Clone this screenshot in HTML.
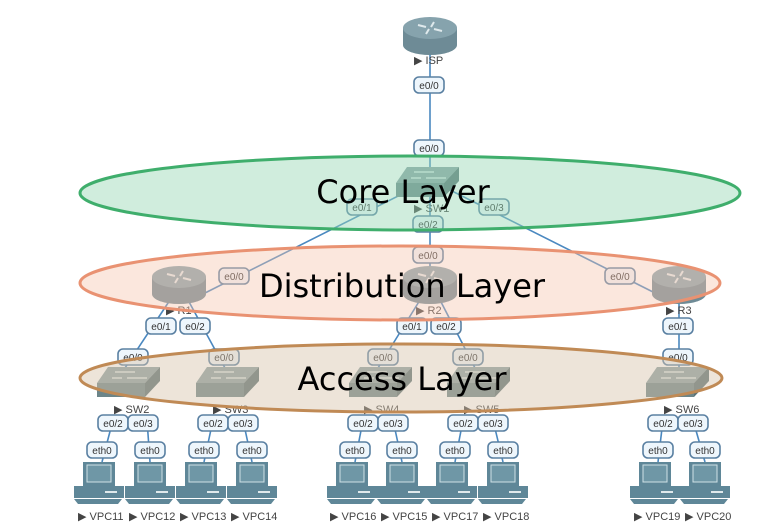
<!DOCTYPE html>
<html><head><meta charset="utf-8"><style>
html,body{margin:0;padding:0;background:#fff;}
svg{display:block;font-family:"Liberation Sans",sans-serif;}
.p rect{fill:#eef6fc;stroke:#5a80a2;stroke-width:1.6;}
.p text{font-size:10px;fill:#333;text-anchor:middle;}
.n{font-size:11px;fill:#444;}
.l{stroke:#4a88c0;stroke-width:1.6;fill:none;}
.big{font-family:"DejaVu Sans","Liberation Sans",sans-serif;font-size:32px;fill:#000;text-anchor:middle;}
</style></head><body>
<svg width="777" height="531" viewBox="0 0 777 531">
<defs>
<g id="rt">
<path d="M-27,11 L-27,28 A27,10 0 0 0 27,28 L27,11 Z" fill="#6e8b96"/>
<ellipse cx="0" cy="11" rx="27" ry="11" fill="#86a3ad"/>
<path d="M-12,8 l8,2 M12,14 l-8,-2 M-4,17 l3,-5 M4,5 l-3,5" stroke="#dfe9ec" stroke-width="2"/>
</g>
<g id="sw">
<polygon points="11,0 63,0 48,16 0,16" fill="#8aa0a4"/>
<polygon points="0,16 48,16 48,30 0,30" fill="#6c8589"/>
<polygon points="48,16 63,0 63,14 48,30" fill="#5a7276"/>
<path d="M18,5 h20 M30,11 h20 M15,11 h10" stroke="#e4eeee" stroke-width="1.2"/>
</g>
<g id="pc">
<rect x="-17" y="0" width="32" height="24" fill="#5f8798"/>
<rect x="-13" y="3" width="24" height="17" fill="#6f97a6" stroke="#cfe0e6" stroke-width="1"/>
<rect x="-26" y="24" width="50" height="12" fill="#5f8798"/>
<rect x="5" y="29" width="12" height="2" fill="#dfe9ec"/>
<polygon points="-26,37 22,37 18,42 -22,42" fill="#5f8798"/>
</g>
</defs>

<g class="l">
<line x1="430" y1="50" x2="430" y2="170"/>
<line x1="420" y1="185" x2="205" y2="293"/>
<line x1="440" y1="185" x2="655" y2="293"/>
<line x1="430" y1="195" x2="430" y2="268"/>
<line x1="170" y1="300" x2="125" y2="368"/>
<line x1="188" y1="300" x2="225" y2="368"/>
<line x1="420" y1="300" x2="378" y2="368"/>
<line x1="440" y1="300" x2="475" y2="368"/>
<line x1="679" y1="300" x2="679" y2="368"/>
<line x1="113" y1="420" x2="102" y2="462"/><line x1="147" y1="420" x2="150" y2="462"/>
<line x1="213" y1="420" x2="204" y2="462"/><line x1="243" y1="420" x2="252" y2="462"/>
<line x1="363" y1="420" x2="355" y2="462"/><line x1="393" y1="420" x2="402" y2="462"/>
<line x1="463" y1="420" x2="455" y2="462"/><line x1="493" y1="420" x2="503" y2="462"/>
<line x1="663" y1="420" x2="658" y2="462"/><line x1="693" y1="420" x2="705" y2="462"/>
</g>

<use href="#rt" x="430" y="17"/>
<use href="#sw" x="396" y="167"/>
<use href="#rt" x="179" y="266"/>
<use href="#rt" x="430" y="266"/>
<use href="#rt" x="679" y="266"/>
<use href="#sw" x="97" y="367"/>
<use href="#sw" x="196" y="367"/>
<use href="#sw" x="349" y="367"/>
<use href="#sw" x="447" y="367"/>
<use href="#sw" x="646" y="367"/>
<use href="#pc" x="100" y="462"/><use href="#pc" x="151" y="462"/>
<use href="#pc" x="202" y="462"/><use href="#pc" x="253" y="462"/>
<use href="#pc" x="353" y="462"/><use href="#pc" x="403" y="462"/>
<use href="#pc" x="453" y="462"/><use href="#pc" x="504" y="462"/>
<use href="#pc" x="656" y="462"/><use href="#pc" x="706" y="462"/>

<g class="n">
<text x="414" y="64">▶ ISP</text>
<text x="414" y="212">▶ SW1</text>
<text x="166" y="314">▶ R1</text>
<text x="416" y="314">▶ R2</text>
<text x="666" y="314">▶ R3</text>
<text x="114" y="413">▶ SW2</text>
<text x="213" y="413">▶ SW3</text>
<text x="364" y="413">▶ SW4</text>
<text x="464" y="413">▶ SW5</text>
<text x="664" y="413">▶ SW6</text>
<text x="78" y="520">▶ VPC11</text><text x="129" y="520">▶ VPC12</text>
<text x="180" y="520">▶ VPC13</text><text x="231" y="520">▶ VPC14</text>
<text x="330" y="520">▶ VPC16</text><text x="381" y="520">▶ VPC15</text>
<text x="432" y="520">▶ VPC17</text><text x="483" y="520">▶ VPC18</text>
<text x="634" y="520">▶ VPC19</text><text x="685" y="520">▶ VPC20</text>
</g>

<g class="p">
<g transform="translate(429,85)"><rect x="-15" y="-8" width="30" height="16" rx="5"/><text y="4">e0/0</text></g>
<g transform="translate(429,148)"><rect x="-15" y="-8" width="30" height="16" rx="5"/><text y="4">e0/0</text></g>
<g transform="translate(362,207)"><rect x="-15" y="-8" width="30" height="16" rx="5"/><text y="4">e0/1</text></g>
<g transform="translate(428,224)"><rect x="-15" y="-8" width="30" height="16" rx="5"/><text y="4">e0/2</text></g>
<g transform="translate(494,207)"><rect x="-15" y="-8" width="30" height="16" rx="5"/><text y="4">e0/3</text></g>
<g transform="translate(428,255)"><rect x="-15" y="-8" width="30" height="16" rx="5"/><text y="4">e0/0</text></g>
<g transform="translate(234,276)"><rect x="-15" y="-8" width="30" height="16" rx="5"/><text y="4">e0/0</text></g>
<g transform="translate(620,276)"><rect x="-15" y="-8" width="30" height="16" rx="5"/><text y="4">e0/0</text></g>
<g transform="translate(161,326)"><rect x="-15" y="-8" width="30" height="16" rx="5"/><text y="4">e0/1</text></g>
<g transform="translate(195,326)"><rect x="-15" y="-8" width="30" height="16" rx="5"/><text y="4">e0/2</text></g>
<g transform="translate(412,326)"><rect x="-15" y="-8" width="30" height="16" rx="5"/><text y="4">e0/1</text></g>
<g transform="translate(446,326)"><rect x="-15" y="-8" width="30" height="16" rx="5"/><text y="4">e0/2</text></g>
<g transform="translate(678,326)"><rect x="-15" y="-8" width="30" height="16" rx="5"/><text y="4">e0/1</text></g>
<g transform="translate(133,357)"><rect x="-15" y="-8" width="30" height="16" rx="5"/><text y="4">e0/0</text></g>
<g transform="translate(224,357)"><rect x="-15" y="-8" width="30" height="16" rx="5"/><text y="4">e0/0</text></g>
<g transform="translate(383,357)"><rect x="-15" y="-8" width="30" height="16" rx="5"/><text y="4">e0/0</text></g>
<g transform="translate(468,357)"><rect x="-15" y="-8" width="30" height="16" rx="5"/><text y="4">e0/0</text></g>
<g transform="translate(678,357)"><rect x="-15" y="-8" width="30" height="16" rx="5"/><text y="4">e0/0</text></g>
<g transform="translate(113,423)"><rect x="-15" y="-8" width="30" height="16" rx="5"/><text y="4">e0/2</text></g>
<g transform="translate(143,423)"><rect x="-15" y="-8" width="30" height="16" rx="5"/><text y="4">e0/3</text></g>
<g transform="translate(213,423)"><rect x="-15" y="-8" width="30" height="16" rx="5"/><text y="4">e0/2</text></g>
<g transform="translate(243,423)"><rect x="-15" y="-8" width="30" height="16" rx="5"/><text y="4">e0/3</text></g>
<g transform="translate(363,423)"><rect x="-15" y="-8" width="30" height="16" rx="5"/><text y="4">e0/2</text></g>
<g transform="translate(393,423)"><rect x="-15" y="-8" width="30" height="16" rx="5"/><text y="4">e0/3</text></g>
<g transform="translate(463,423)"><rect x="-15" y="-8" width="30" height="16" rx="5"/><text y="4">e0/2</text></g>
<g transform="translate(493,423)"><rect x="-15" y="-8" width="30" height="16" rx="5"/><text y="4">e0/3</text></g>
<g transform="translate(663,423)"><rect x="-15" y="-8" width="30" height="16" rx="5"/><text y="4">e0/2</text></g>
<g transform="translate(693,423)"><rect x="-15" y="-8" width="30" height="16" rx="5"/><text y="4">e0/3</text></g>
<g transform="translate(102,450)"><rect x="-15" y="-8" width="30" height="16" rx="5"/><text y="4">eth0</text></g>
<g transform="translate(150,450)"><rect x="-15" y="-8" width="30" height="16" rx="5"/><text y="4">eth0</text></g>
<g transform="translate(204,450)"><rect x="-15" y="-8" width="30" height="16" rx="5"/><text y="4">eth0</text></g>
<g transform="translate(252,450)"><rect x="-15" y="-8" width="30" height="16" rx="5"/><text y="4">eth0</text></g>
<g transform="translate(355,450)"><rect x="-15" y="-8" width="30" height="16" rx="5"/><text y="4">eth0</text></g>
<g transform="translate(402,450)"><rect x="-15" y="-8" width="30" height="16" rx="5"/><text y="4">eth0</text></g>
<g transform="translate(455,450)"><rect x="-15" y="-8" width="30" height="16" rx="5"/><text y="4">eth0</text></g>
<g transform="translate(503,450)"><rect x="-15" y="-8" width="30" height="16" rx="5"/><text y="4">eth0</text></g>
<g transform="translate(658,450)"><rect x="-15" y="-8" width="30" height="16" rx="5"/><text y="4">eth0</text></g>
<g transform="translate(705,450)"><rect x="-15" y="-8" width="30" height="16" rx="5"/><text y="4">eth0</text></g>
</g>

<ellipse cx="410" cy="193" rx="330" ry="37" fill="rgba(150,215,180,0.45)" stroke="#3fae6c" stroke-width="3"/>
<ellipse cx="400" cy="283" rx="320" ry="37" fill="rgba(245,195,170,0.4)" stroke="#e99272" stroke-width="3"/>
<ellipse cx="401" cy="378" rx="321" ry="34" fill="rgba(215,195,170,0.45)" stroke="#c08a55" stroke-width="3"/>
<text class="big" x="403" y="203">Core Layer</text>
<text class="big" x="402" y="297">Distribution Layer</text>
<text class="big" x="402" y="390">Access Layer</text>
</svg>
</body></html>
